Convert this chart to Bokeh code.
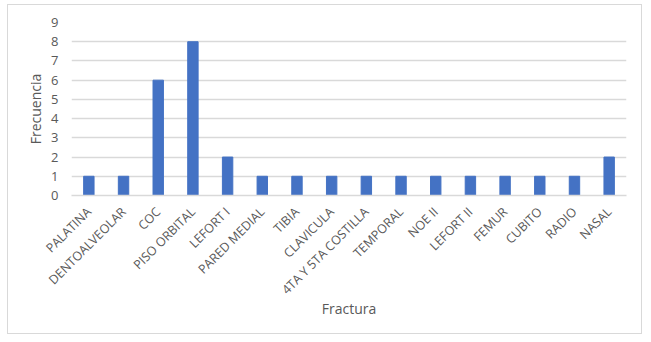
import math
from bokeh.plotting import figure
from bokeh.models import Range1d, FixedTicker
from bokeh.embed import file_html
from bokeh.resources import INLINE

categories = ["PALATINA", "DENTOALVEOLAR", "COC", "PISO ORBITAL", "LEFORT I",
              "PARED MEDIAL", "TIBIA", "CLAVICULA", "4TA Y 5TA COSTILLA",
              "TEMPORAL", "NOE II", "LEFORT II", "FEMUR", "CUBITO", "RADIO", "NASAL"]
frecuencia = [1, 1, 6, 8, 2, 1, 1, 1, 1, 1, 1, 1, 1, 1, 1, 2]
y_ticks = [0, 1, 2, 3, 4, 5, 6, 7, 8, 9]

FONT = "Open Sans"
GRAY = "#595959"

p = figure(x_range=categories, y_range=Range1d(0, 9), width=635, height=330,
           output_backend="svg", toolbar_location=None,
           min_border_left=63, min_border_right=17, min_border_top=17,
           min_border_bottom=140)
p.styles = {"border": "1px solid #d9d9d9", "box-sizing": "border-box",
            "margin-left": "7px", "margin-top": "4px"}
p.outline_line_color = None

p.vbar(x=categories, top=frecuencia, width=0.3, color="#4472C4", line_color="#4472C4")

p.ygrid.ticker = FixedTicker(ticks=y_ticks)
p.ygrid.grid_line_color = "#d9d9d9"
p.ygrid.grid_line_width = 1.5
p.xgrid.grid_line_color = None

p.yaxis.ticker = FixedTicker(ticks=y_ticks)
p.yaxis.axis_line_color = None
p.yaxis.major_tick_line_color = None
p.yaxis.minor_tick_line_color = None
p.yaxis.major_label_text_font = FONT
p.yaxis.major_label_text_font_size = "13px"
p.yaxis.major_label_text_color = GRAY
p.yaxis.major_label_standoff = 7
p.yaxis.axis_label = "Frecuencia"
p.yaxis.axis_label_text_font = FONT
p.yaxis.axis_label_text_font_size = "14px"
p.yaxis.axis_label_text_font_style = "normal"
p.yaxis.axis_label_text_color = GRAY
p.yaxis.axis_label_standoff = 3

p.xaxis.axis_line_color = "#d9d9d9"
p.xaxis.axis_line_width = 1.5
p.xaxis.major_tick_line_color = None
p.xaxis.minor_tick_line_color = None
p.xaxis.major_label_orientation = math.pi / 4
p.xaxis.major_label_text_font = FONT
p.xaxis.major_label_text_font_size = "12.5px"
p.xaxis.major_label_text_color = GRAY
p.xaxis.major_label_standoff = 8
p.xaxis.axis_label = "Fractura"
p.xaxis.axis_label_text_font = FONT
p.xaxis.axis_label_text_font_size = "14px"
p.xaxis.axis_label_text_font_style = "normal"
p.xaxis.axis_label_text_color = GRAY
p.xaxis.axis_label_standoff = -8

open("out.html", "w").write(file_html(p, INLINE))
